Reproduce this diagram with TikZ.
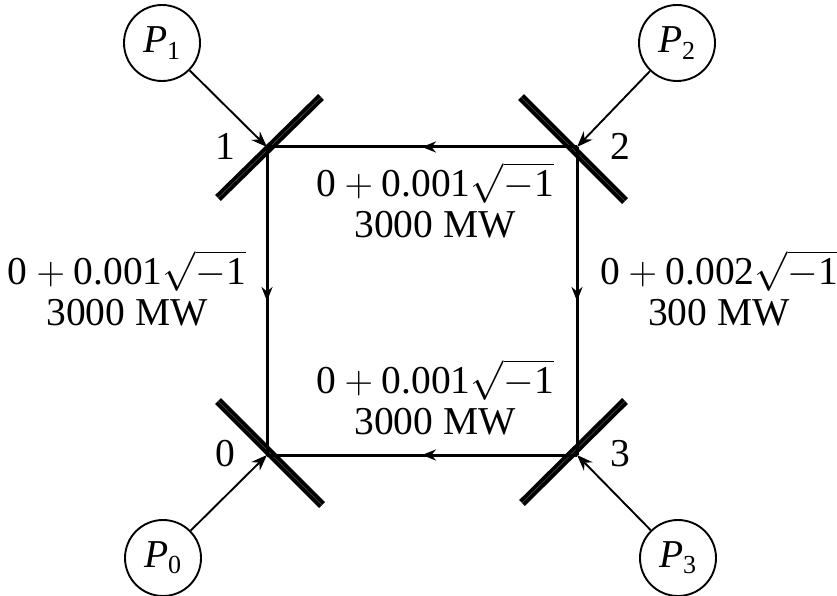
\documentclass[tikz,border=0pt]{standalone}
\usepackage{fix-cm}
\usepackage{fontspec}
\setmainfont{Liberation Serif}
\usetikzlibrary{arrows.meta,decorations.markings}
\DeclareMathSizes{39.5}{39.5}{27}{20}
\AtBeginDocument{\lineskiplimit=-100pt\relax}
\newcommand{\imp}[1]{$\mbox{0}+\mbox{#1}\sqrt{-\mbox{1}}$}
\newcommand{\src}[1]{\textit{P}\kern-0.02em\raisebox{-0.16em}{\fontsize{26}{26}\selectfont #1}}
\tikzset{
  x=1pt,y=-1pt,
  every node/.style={font=\fontsize{39.5}{44}\selectfont,inner sep=0pt},
  srcnode/.style={draw,circle,line width=1.9pt,minimum size=76pt},
  busbar/.style={line width=3.8pt,double=black!70,double distance=0.6pt},
  feed/.style={line width=1.9pt,-{Stealth[length=16pt,width=12pt]}},
  line/.style={line width=3pt,postaction={decorate},decoration={markings,mark=at position 0.5 with {\arrow{Stealth[length=14pt,width=11pt]}}}},
  lab/.style={align=center,font=\fontsize{39.5}{41}\selectfont}
}
\begin{document}
\begin{tikzpicture}
\useasboundingbox (0,0) rectangle (837,596);
\coordinate (b1) at (267,147);
\coordinate (b2) at (577,147);
\coordinate (b3) at (577,455);
\coordinate (b0) at (267,455);
\coordinate (b1a) at (218,198); \coordinate (b1b) at (321,97);
\coordinate (b2a) at (521,97); \coordinate (b2b) at (625,201);
\coordinate (b3a) at (522,503); \coordinate (b3b) at (625,401);
\coordinate (b0a) at (218,401); \coordinate (b0b) at (322,505);
\draw[busbar] (b1a) -- (b1b);
\draw[busbar] (b2a) -- (b2b);
\draw[busbar] (b3a) -- (b3b);
\draw[busbar] (b0a) -- (b0b);
\draw[line] (b2) -- (b1);
\draw[line] (b1) -- (b0);
\draw[line] (b2) -- (b3);
\draw[line] (b3) -- (b0);
\node[srcnode] (P1) at (162,43) {\src{1}};
\node[srcnode] (P2) at (677,43) {\src{2}};
\node[srcnode] (P3) at (678,558) {\src{3}};
\node[srcnode] (P0) at (163,558) {\src{0}};
\draw[feed] (P1) -- (b1);
\draw[feed] (P2) -- (b2);
\draw[feed] (P3) -- (b3);
\draw[feed] (P0) -- (b0);
\node (n1) at (225,146) {1};
\node (n2) at (620,146) {2};
\node (n3) at (620,454) {3};
\node (n0) at (225,454) {0};
\node[lab] (lt) at (435,200) {\imp{0.001}\\3000 MW};
\node[lab] (ll) at (127,288) {\imp{0.001}\\3000 MW};
\node[lab] (lr) at (719,288) {\imp{0.002}\\300 MW};
\node[lab] (lb) at (435,397) {\imp{0.001}\\3000 MW};
\end{tikzpicture}
\end{document}
